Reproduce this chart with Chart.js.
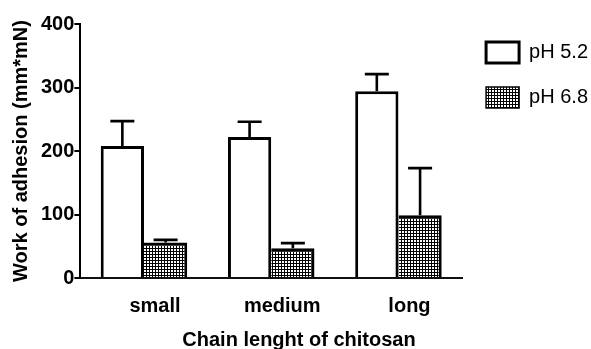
<!DOCTYPE html>
<html>
<head>
<meta charset="utf-8">
<script src="https://cdn.jsdelivr.net/npm/chart.js@4/dist/chart.umd.min.js"></script>
<style>
html,body{margin:0;padding:0;background:#fff;overflow:hidden}
canvas{display:block}
</style>
</head>
<body>
<canvas id="c" width="591" height="349"></canvas>
<script>
// ---- data ----
const categories = ['small', 'medium', 'long'];
const seriesNames = ['pH 5.2', 'pH 6.8'];
const ph52 = [208, 222, 294];
const ph52Err = [39, 24, 27];
const ph68 = [56, 47, 99];
const ph68Err = [4, 8, 74];
const yTickValues = [0, 100, 200, 300, 400];
const xTitle = 'Chain lenght of chitosan';
const yTitle = 'Work of adhesion (mm*mN)';

const FONT = "'Liberation Sans', Arial, Helvetica, sans-serif";
Chart.defaults.font.family = FONT;
Chart.defaults.color = '#000';

function makePattern() {
  const c = document.createElement('canvas');
  c.width = 3; c.height = 3;
  const x = c.getContext('2d');
  x.fillStyle = '#000'; x.fillRect(0, 0, 3, 3);
  x.fillStyle = '#fff'; x.fillRect(0, 0, 2, 2);
  return x.createPattern(c, 'repeat');
}

const errorBars = {
  id: 'errorBars',
  afterDatasetsDraw(chart) {
    const ctx = chart.ctx;
    const y = chart.scales.y;
    chart.data.datasets.forEach((ds, i) => {
      const meta = chart.getDatasetMeta(i);
      meta.data.forEach((bar, j) => {
        const base = y.getPixelForValue(ds.data[j]);
        const top = y.getPixelForValue(ds.data[j] + ds.errors[j]);
        ctx.save();
        ctx.strokeStyle = '#000';
        ctx.lineWidth = 2.6;
        ctx.beginPath();
        ctx.moveTo(bar.x, base);
        ctx.lineTo(bar.x, top);
        ctx.moveTo(bar.x - 12, top);
        ctx.lineTo(bar.x + 12, top);
        ctx.stroke();
        ctx.restore();
      });
    });
  }
};

new Chart(document.getElementById('c'), {
  type: 'bar',
  data: {
    labels: categories,
    datasets: [
      {
        label: seriesNames[0],
        data: ph52,
        errors: ph52Err,
        backgroundColor: '#fff',
        borderColor: '#000',
        borderWidth: 3,
        borderSkipped: 'start',
        categoryPercentage: 0.68,
        barPercentage: 1.0
      },
      {
        label: seriesNames[1],
        data: ph68,
        errors: ph68Err,
        backgroundColor: makePattern(),
        borderColor: '#000',
        borderWidth: {top: 3, right: 3, left: 0, bottom: 0},
        borderSkipped: 'start',
        categoryPercentage: 0.68,
        barPercentage: 1.0
      }
    ]
  },
  options: {
    responsive: false,
    animation: false,
    devicePixelRatio: 1,
    layout: {padding: {top: 18, right: -7, left: 0, bottom: 0}},
    plugins: {
      legend: {
        position: 'right',
        align: 'start',
        labels: {
          boxWidth: 33,
          boxHeight: 21,
          padding: 24,
          color: '#000',
          font: {family: FONT, size: 20}
        }
      },
      title: {
        display: true,
        position: 'bottom',
        text: xTitle,
        color: '#000',
        font: {family: FONT, size: 20, weight: 'bold'},
        padding: {top: 10, bottom: -3}
      },
      tooltip: {enabled: false}
    },
    scales: {
      x: {
        z: 1,
        grid: {display: false, drawTicks: true, tickLength: 16},
        border: {display: true, color: '#111', width: 2},
        ticks: {
          color: '#000',
          padding: 0,
          labelOffset: 11,
          font: {family: FONT, size: 20, weight: 'bold'}
        }
      },
      y: {
        z: 1,
        min: 0,
        max: 400,
        afterBuildTicks(scale) {
          scale.ticks = yTickValues.map(v => ({value: v}));
        },
        grid: {
          display: true,
          drawOnChartArea: false,
          drawTicks: true,
          tickLength: 6,
          color: '#000',
          lineWidth: 2
        },
        border: {display: true, color: '#000', width: 2},
        ticks: {
          color: '#000',
          padding: 0,
          font: {family: FONT, size: 20, weight: 'bold', lineHeight: 2.4}
        },
        title: {
          display: true,
          text: yTitle,
          color: '#000',
          font: {family: FONT, size: 20, weight: 'bold'},
          padding: {top: 9, bottom: 8}
        }
      }
    }
  },
  plugins: [errorBars]
});
</script>
</body>
</html>
